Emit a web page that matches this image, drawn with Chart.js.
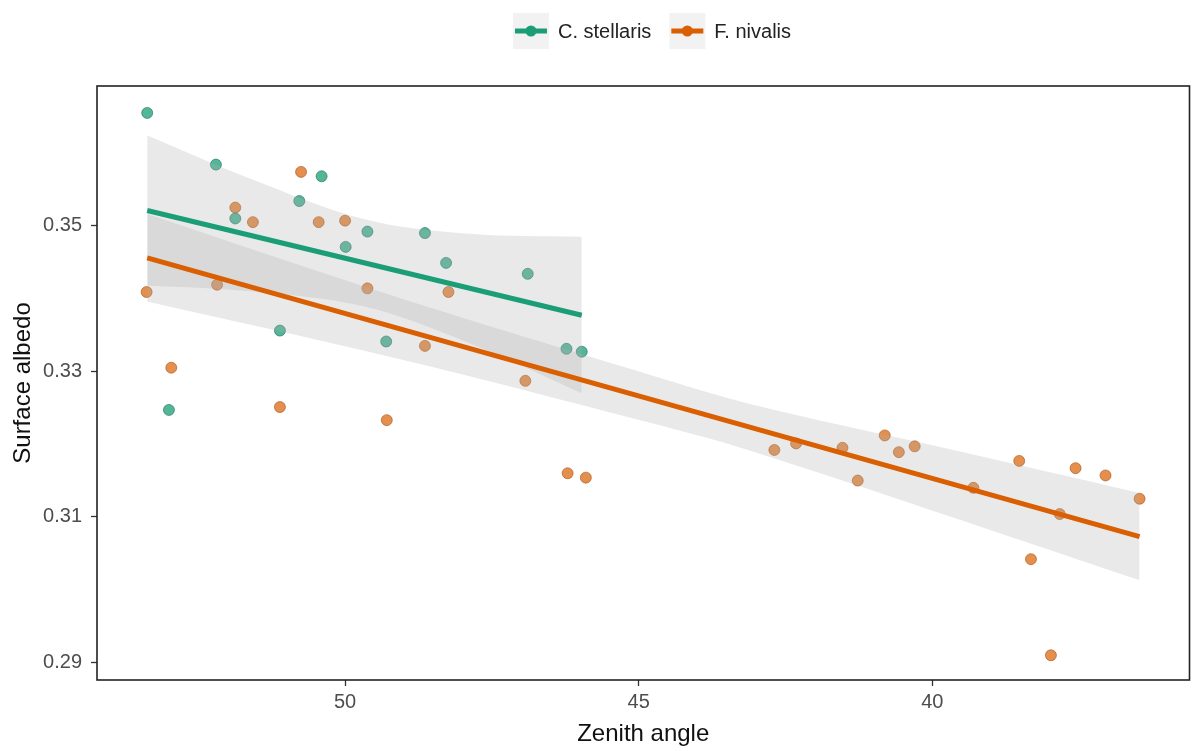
<!DOCTYPE html>
<html>
<head>
<meta charset="utf-8">
<title>Surface albedo vs zenith angle</title>
<script src="https://cdn.jsdelivr.net/npm/chart.js@4.4.0/dist/chart.umd.min.js"></script>
<style>
  html, body { margin: 0; padding: 0; background: #fff; }
  #wrap { width: 1196px; height: 751px; }
</style>
</head>
<body>
<div id="wrap"><canvas id="albedoChart" width="1196" height="751"></canvas></div>
<script>
// series names and colours (Dark2)
const seriesNames = ['C. stellaris', 'F. nivalis'];
const lineColors = ['#1b9e77', '#d95f02'];
const dotColors = ['rgba(27,158,119,0.75)', 'rgba(217,95,2,0.7)'];

// C. stellaris observations
const stellarisZenith = [53.37, 53.00, 52.20, 51.87, 51.11, 50.78, 50.40, 49.99, 49.62, 49.30, 48.64, 48.28, 46.89, 46.23, 45.97];
const stellarisAlbedo = [0.3655, 0.3247, 0.3584, 0.3510, 0.3356, 0.3534, 0.3568, 0.3471, 0.3492, 0.3341, 0.3490, 0.3449, 0.3434, 0.3331, 0.3327];

// F. nivalis observations
const nivalisZenith = [53.38, 52.96, 52.18, 51.87, 51.57, 51.11, 50.75, 50.45, 50.00, 49.62, 49.29, 48.64, 48.24, 46.93, 46.21, 45.90,
  42.69, 42.32, 41.53, 41.27, 40.81, 40.57, 40.30, 39.30, 38.52, 38.32, 37.98, 37.83, 37.56, 37.05, 36.47];
const nivalisAlbedo = [0.3409, 0.3305, 0.3419, 0.3525, 0.3505, 0.3251, 0.3574, 0.3505, 0.3507, 0.3414, 0.3233, 0.3335, 0.3409, 0.3287, 0.3160, 0.3154,
  0.3192, 0.3201, 0.3195, 0.3150, 0.3212, 0.3189, 0.3197, 0.3140, 0.3177, 0.3042, 0.2910, 0.3104, 0.3167, 0.3157, 0.3125];

// fitted lines (ends)
const stellarisFitZenith = [53.37, 45.97];
const stellarisFitAlbedo = [0.3521, 0.3377];
const nivalisFitZenith = [53.37, 36.47];
const nivalisFitAlbedo = [0.3456, 0.3073];

// confidence bands
const stellarisBandZenith = [53.37, 51.62, 49.67, 47.89, 45.97];
const stellarisBandUpper = [0.3624, 0.3565, 0.3509, 0.3489, 0.3485];
const stellarisBandLower = [0.3418, 0.3410, 0.3389, 0.3339, 0.3270];
const nivalisBandZenith = [53.37, 49.08, 44.84, 43.14, 39.75, 36.47];
const nivalisBandUpper = [0.3516, 0.3401, 0.3296, 0.3256, 0.3194, 0.3133];
const nivalisBandLower = [0.3396, 0.3317, 0.3230, 0.3192, 0.3102, 0.3013];

// axes
const xTicks = [50, 45, 40];
const yTicks = [0.29, 0.31, 0.33, 0.35];
const xRange = [35.62, 54.225];
const yRange = [0.2876, 0.3692];

const pairs = (xs, ys) => xs.map((x, i) => ({ x: x, y: ys[i] }));
const bandFill = 'rgba(175,175,175,0.27)';

function bandSets(xs, up, lo) {
  return [
    { type: 'line', data: pairs(xs, up), borderWidth: 0, pointRadius: 0, fill: '+1',
      backgroundColor: bandFill, tension: 0.35, order: 2 },
    { type: 'line', data: pairs(xs, lo), borderWidth: 0, pointRadius: 0, fill: false,
      tension: 0.35, order: 2 }
  ];
}

const datasets = [
  { label: seriesNames[0], data: pairs(stellarisZenith, stellarisAlbedo), pointRadius: 5.5,
    backgroundColor: dotColors[0], borderColor: 'rgba(20,110,85,0.6)', borderWidth: 1, order: 3 },
  { label: seriesNames[1], data: pairs(nivalisZenith, nivalisAlbedo), pointRadius: 5.5,
    backgroundColor: dotColors[1], borderColor: 'rgba(160,70,10,0.55)', borderWidth: 1, order: 3 },
  ...bandSets(stellarisBandZenith, stellarisBandUpper, stellarisBandLower),
  ...bandSets(nivalisBandZenith, nivalisBandUpper, nivalisBandLower),
  { type: 'line', data: pairs(stellarisFitZenith, stellarisFitAlbedo), borderColor: lineColors[0],
    borderWidth: 5, pointRadius: 0, fill: false, order: 1 },
  { type: 'line', data: pairs(nivalisFitZenith, nivalisFitAlbedo), borderColor: lineColors[1],
    borderWidth: 5, pointRadius: 0, fill: false, order: 1 }
];

const fontFamily = '"Liberation Sans", Arial, sans-serif';
Chart.defaults.font.family = fontFamily;

// panel border + ggplot-like legend on top
const framePlugin = {
  id: 'frame',
  afterDraw(chart) {
    const { ctx, chartArea: a } = chart;
    ctx.save();
    ctx.strokeStyle = '#222';
    ctx.lineWidth = 1.6;
    ctx.strokeRect(a.left, a.top, a.right - a.left, a.bottom - a.top);

    // legend
    ctx.font = '20px ' + fontFamily;
    const key = 36, gap = 9, spacing = 18, cy = 31;
    const widths = seriesNames.map(n => ctx.measureText(n).width);
    const total = widths.reduce((s, w) => s + key + gap + w, 0) + spacing;
    let x = 652 - total / 2;
    seriesNames.forEach((name, i) => {
      ctx.fillStyle = '#f2f2f2';
      ctx.fillRect(x, cy - key / 2, key, key);
      ctx.strokeStyle = lineColors[i];
      ctx.lineWidth = 5;
      ctx.beginPath();
      ctx.moveTo(x + 2, cy);
      ctx.lineTo(x + key - 2, cy);
      ctx.stroke();
      ctx.fillStyle = lineColors[i];
      ctx.beginPath();
      ctx.arc(x + key / 2, cy, 5.5, 0, Math.PI * 2);
      ctx.fill();
      ctx.fillStyle = '#222';
      ctx.textBaseline = 'middle';
      ctx.textAlign = 'left';
      ctx.fillText(name, x + key + gap, cy + 1);
      x += key + gap + widths[i] + spacing;
    });
    ctx.restore();
  }
};

new Chart(document.getElementById('albedoChart'), {
  type: 'scatter',
  data: { datasets: datasets },
  plugins: [framePlugin],
  options: {
    responsive: false,
    animation: false,
    layout: { padding: { top: 86, right: 3, left: 0, bottom: 0 } },
    plugins: { legend: { display: false }, tooltip: { enabled: false } },
    scales: {
      x: {
        type: 'linear',
        reverse: true,
        min: xRange[0],
        max: xRange[1],
        afterBuildTicks: s => { s.ticks = xTicks.map(v => ({ value: v })); },
        afterFit: s => { s.height = 71; },
        border: { display: false },
        grid: { drawOnChartArea: false, drawTicks: true, tickLength: 6, tickColor: '#333', tickWidth: 1.3 },
        ticks: { padding: 4, color: '#4d4d4d', font: { size: 20 }, maxRotation: 0, callback: v => String(v) },
        title: { display: true, text: 'Zenith angle', color: '#111', font: { size: 24 }, padding: { top: 0, bottom: 2 } }
      },
      y: {
        type: 'linear',
        min: yRange[0],
        max: yRange[1],
        afterBuildTicks: s => { s.ticks = yTicks.map(v => ({ value: v })); },
        afterFit: s => { s.width = 97; },
        border: { display: false },
        grid: { drawOnChartArea: false, drawTicks: true, tickLength: 6, tickColor: '#333', tickWidth: 1.3 },
        ticks: { padding: 9, color: '#4d4d4d', font: { size: 20 }, callback: v => v.toFixed(2) },
        title: { display: true, text: 'Surface albedo', color: '#111', font: { size: 24 }, padding: { top: 9, bottom: 0 } }
      }
    }
  }
});
</script>
</body>
</html>
